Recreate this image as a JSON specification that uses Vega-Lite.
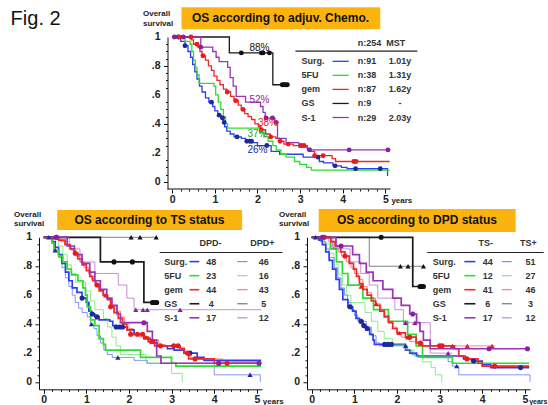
{
  "$schema": "https://vega.github.io/schema/vega-lite/v6.json",
  "padding": {"left": 10, "top": 7, "right": 0, "bottom": 5},
  "config": {"view": {"stroke": null}, "font": "Liberation Sans"},
  "bounds": "flush",
  "spacing": 48.3,
  "datasets": {
    "yticks": [{"v":0,"lab":"0"},{"v":0.2,"lab":".2"},{"v":0.4,"lab":".4"},{"v":0.6,"lab":".6"},{"v":0.8,"lab":".8"},{"v":1,"lab":"1"}],
    "top_curves": [
      {"c":"Surg.","t":0,"s":1},{"c":"Surg.","t":0.2,"s":0.97},{"c":"Surg.","t":0.3,"s":0.94},{"c":"Surg.","t":0.37,"s":0.9},{"c":"Surg.","t":0.43,"s":0.86},{"c":"Surg.","t":0.48,"s":0.81},{"c":"Surg.","t":0.53,"s":0.76},{"c":"Surg.","t":0.58,"s":0.71},{"c":"Surg.","t":0.64,"s":0.66},{"c":"Surg.","t":0.7,"s":0.62},{"c":"Surg.","t":0.78,"s":0.58},{"c":"Surg.","t":0.86,"s":0.55},{"c":"Surg.","t":0.95,"s":0.52},{"c":"Surg.","t":1.0,"s":0.49},{"c":"Surg.","t":1.07,"s":0.46},{"c":"Surg.","t":1.14,"s":0.44},{"c":"Surg.","t":1.2,"s":0.41},{"c":"Surg.","t":1.23,"s":0.38},{"c":"Surg.","t":1.28,"s":0.35},{"c":"Surg.","t":1.36,"s":0.33},{"c":"Surg.","t":1.45,"s":0.31},{"c":"Surg.","t":1.62,"s":0.3},{"c":"Surg.","t":1.72,"s":0.28},{"c":"Surg.","t":1.88,"s":0.27},{"c":"Surg.","t":2.0,"s":0.25},{"c":"Surg.","t":2.32,"s":0.21},{"c":"Surg.","t":2.52,"s":0.19},{"c":"Surg.","t":3.07,"s":0.17},{"c":"Surg.","t":3.45,"s":0.14},{"c":"Surg.","t":3.55,"s":0.13},{"c":"Surg.","t":3.77,"s":0.11},{"c":"Surg.","t":3.97,"s":0.1},{"c":"Surg.","t":4.1,"s":0.09},{"c":"Surg.","t":5.04,"s":0.09},{"c":"Surg.","t":5.05,"s":0.04},
      {"c":"5FU","t":0,"s":1},{"c":"5FU","t":0.3,"s":0.97},{"c":"5FU","t":0.42,"s":0.95},{"c":"5FU","t":0.46,"s":0.9},{"c":"5FU","t":0.5,"s":0.84},{"c":"5FU","t":0.54,"s":0.79},{"c":"5FU","t":0.58,"s":0.74},{"c":"5FU","t":0.63,"s":0.68},{"c":"5FU","t":0.98,"s":0.66},{"c":"5FU","t":1.02,"s":0.6},{"c":"5FU","t":1.08,"s":0.55},{"c":"5FU","t":1.14,"s":0.5},{"c":"5FU","t":1.2,"s":0.45},{"c":"5FU","t":1.25,"s":0.4},{"c":"5FU","t":1.3,"s":0.37},{"c":"5FU","t":2.05,"s":0.34},{"c":"5FU","t":2.15,"s":0.31},{"c":"5FU","t":2.25,"s":0.28},{"c":"5FU","t":2.36,"s":0.25},{"c":"5FU","t":2.44,"s":0.22},{"c":"5FU","t":2.55,"s":0.19},{"c":"5FU","t":2.67,"s":0.17},{"c":"5FU","t":2.87,"s":0.14},{"c":"5FU","t":2.99,"s":0.12},{"c":"5FU","t":3.15,"s":0.1},{"c":"5FU","t":3.26,"s":0.08},{"c":"5FU","t":5.1,"s":0.08},
      {"c":"gem","t":0,"s":1},{"c":"gem","t":0.45,"s":0.98},{"c":"gem","t":0.5,"s":0.95},{"c":"gem","t":0.6,"s":0.93},{"c":"gem","t":0.65,"s":0.9},{"c":"gem","t":0.7,"s":0.87},{"c":"gem","t":0.78,"s":0.84},{"c":"gem","t":0.85,"s":0.8},{"c":"gem","t":0.92,"s":0.77},{"c":"gem","t":0.98,"s":0.73},{"c":"gem","t":1.05,"s":0.7},{"c":"gem","t":1.12,"s":0.67},{"c":"gem","t":1.2,"s":0.64},{"c":"gem","t":1.28,"s":0.62},{"c":"gem","t":1.37,"s":0.59},{"c":"gem","t":1.45,"s":0.56},{"c":"gem","t":1.55,"s":0.53},{"c":"gem","t":1.62,"s":0.5},{"c":"gem","t":1.7,"s":0.47},{"c":"gem","t":1.78,"s":0.45},{"c":"gem","t":1.86,"s":0.43},{"c":"gem","t":1.94,"s":0.4},{"c":"gem","t":2.02,"s":0.38},{"c":"gem","t":2.08,"s":0.36},{"c":"gem","t":2.19,"s":0.33},{"c":"gem","t":2.3,"s":0.31},{"c":"gem","t":2.43,"s":0.3},{"c":"gem","t":2.52,"s":0.28},{"c":"gem","t":2.62,"s":0.26},{"c":"gem","t":2.84,"s":0.25},{"c":"gem","t":3.17,"s":0.23},{"c":"gem","t":3.25,"s":0.21},{"c":"gem","t":3.34,"s":0.18},{"c":"gem","t":3.75,"s":0.16},{"c":"gem","t":3.83,"s":0.14},{"c":"gem","t":5.1,"s":0.14},
      {"c":"GS","t":0,"s":1},{"c":"GS","t":1.34,"s":0.89},{"c":"GS","t":2.36,"s":0.67},{"c":"GS","t":2.7,"s":0.67},
      {"c":"S-1","t":0,"s":1},{"c":"S-1","t":0.67,"s":0.93},{"c":"S-1","t":0.95,"s":0.9},{"c":"S-1","t":1.03,"s":0.86},{"c":"S-1","t":1.1,"s":0.83},{"c":"S-1","t":1.3,"s":0.79},{"c":"S-1","t":1.36,"s":0.72},{"c":"S-1","t":1.43,"s":0.66},{"c":"S-1","t":1.5,"s":0.59},{"c":"S-1","t":1.72,"s":0.55},{"c":"S-1","t":2.07,"s":0.52},{"c":"S-1","t":2.13,"s":0.48},{"c":"S-1","t":2.18,"s":0.44},{"c":"S-1","t":2.4,"s":0.41},{"c":"S-1","t":2.47,"s":0.3},{"c":"S-1","t":2.67,"s":0.27},{"c":"S-1","t":2.97,"s":0.24},{"c":"S-1","t":3.17,"s":0.22},{"c":"S-1","t":5.1,"s":0.22}
    ],
    "top_cens": [
      {"c":"Surg.","t":0.14,"s":1},{"c":"Surg.","t":0.3,"s":0.94},{"c":"Surg.","t":0.92,"s":0.55},{"c":"Surg.","t":1.1,"s":0.46},{"c":"Surg.","t":1.18,"s":0.44},{"c":"Surg.","t":1.22,"s":0.41},{"c":"Surg.","t":1.52,"s":0.31},{"c":"Surg.","t":1.75,"s":0.28},{"c":"Surg.","t":1.82,"s":0.28},{"c":"Surg.","t":1.86,"s":0.28},{"c":"Surg.","t":2.22,"s":0.25},{"c":"Surg.","t":3.42,"s":0.17},{"c":"Surg.","t":3.82,"s":0.11},{"c":"Surg.","t":4.3,"s":0.09},{"c":"Surg.","t":4.88,"s":0.09},
      {"c":"gem","t":0.16,"s":1},{"c":"gem","t":0.44,"s":1},{"c":"gem","t":0.58,"s":0.95},{"c":"gem","t":0.72,"s":0.87},{"c":"gem","t":1.29,"s":0.62},{"c":"gem","t":1.49,"s":0.56},{"c":"gem","t":1.66,"s":0.5},{"c":"gem","t":2.09,"s":0.36},{"c":"gem","t":2.31,"s":0.31},{"c":"gem","t":2.53,"s":0.28},{"c":"gem","t":2.72,"s":0.26},{"c":"gem","t":3.02,"s":0.25},{"c":"gem","t":3.09,"s":0.25},{"c":"gem","t":3.34,"s":0.18},{"c":"gem","t":3.54,"s":0.18},{"c":"gem","t":4.26,"s":0.14},{"c":"gem","t":4.31,"s":0.14},
      {"c":"S-1","t":0.05,"s":1},{"c":"S-1","t":0.26,"s":1},{"c":"S-1","t":0.67,"s":0.93},{"c":"S-1","t":2.2,"s":0.44},{"c":"S-1","t":2.35,"s":0.44},{"c":"S-1","t":2.44,"s":0.41},{"c":"S-1","t":3.22,"s":0.22},{"c":"S-1","t":4.15,"s":0.22},{"c":"S-1","t":5.06,"s":0.22},
      {"c":"GS","t":1.62,"s":0.89},{"c":"GS","t":2.09,"s":0.89},{"c":"GS","t":2.13,"s":0.89},{"c":"GS","t":2.28,"s":0.89},{"c":"GS","t":2.58,"s":0.67},{"c":"GS","t":2.62,"s":0.67},{"c":"GS","t":2.66,"s":0.67},{"c":"GS","t":2.7,"s":0.67}
    ],
    "pct": [
      {"c":"GS","t":2,"s":0.88,"lab":"88%"},{"c":"S-1","t":2,"s":0.52,"lab":"52%"},{"c":"gem","t":2,"s":0.38,"lab":"38%"},{"c":"5FU","t":2,"s":0.37,"lab":"37%"},{"c":"Surg.","t":2,"s":0.26,"lab":"26%"}
    ],
    "top_tab": [
      {"c":"Surg.","n":"n:91","m":"1.01y"},{"c":"5FU","n":"n:38","m":"1.31y"},{"c":"gem","n":"n:87","m":"1.62y"},{"c":"GS","n":"n:9","m":"-"},{"c":"S-1","n":"n:29","m":"2.03y"}
    ],
    "tl_tab": [
      {"c":"Surg.","n1":"48","n2":"46"},{"c":"5FU","n1":"23","n2":"16"},{"c":"gem","n1":"44","n2":"43"},{"c":"GS","n1":"4","n2":"5"},{"c":"S-1","n1":"17","n2":"12"}
    ],
    "tr_tab": [
      {"c":"Surg.","n1":"44","n2":"51"},{"c":"5FU","n1":"12","n2":"27"},{"c":"gem","n1":"41","n2":"46"},{"c":"GS","n1":"6","n2":"3"},{"c":"S-1","n1":"17","n2":"12"}
    ],
    "tl_curves": [
      {"c":"Surg.","g":"a","t":0,"s":1},{"c":"Surg.","g":"a","t":0.2,"s":0.97},{"c":"Surg.","g":"a","t":0.27,"s":0.93},{"c":"Surg.","g":"a","t":0.35,"s":0.88},{"c":"Surg.","g":"a","t":0.43,"s":0.82},{"c":"Surg.","g":"a","t":0.51,"s":0.76},{"c":"Surg.","g":"a","t":0.59,"s":0.7},{"c":"Surg.","g":"a","t":0.67,"s":0.65},{"c":"Surg.","g":"a","t":0.78,"s":0.62},{"c":"Surg.","g":"a","t":0.9,"s":0.58},{"c":"Surg.","g":"a","t":1.0,"s":0.55},{"c":"Surg.","g":"a","t":1.06,"s":0.49},{"c":"Surg.","g":"a","t":1.12,"s":0.47},{"c":"Surg.","g":"a","t":1.2,"s":0.45},{"c":"Surg.","g":"a","t":1.3,"s":0.43},{"c":"Surg.","g":"a","t":1.55,"s":0.42},{"c":"Surg.","g":"a","t":1.62,"s":0.39},{"c":"Surg.","g":"a","t":1.7,"s":0.38},{"c":"Surg.","g":"a","t":1.96,"s":0.36},{"c":"Surg.","g":"a","t":2.12,"s":0.33},{"c":"Surg.","g":"a","t":2.35,"s":0.3},{"c":"Surg.","g":"a","t":2.5,"s":0.27},{"c":"Surg.","g":"a","t":2.66,"s":0.25},{"c":"Surg.","g":"a","t":2.9,"s":0.23},{"c":"Surg.","g":"a","t":3.06,"s":0.22},{"c":"Surg.","g":"a","t":3.29,"s":0.2},{"c":"Surg.","g":"a","t":3.6,"s":0.17},{"c":"Surg.","g":"a","t":3.76,"s":0.15},{"c":"Surg.","g":"a","t":5.1,"s":0.15},
      {"c":"Surg.","g":"b","t":0,"s":1},{"c":"Surg.","g":"b","t":0.2,"s":0.96},{"c":"Surg.","g":"b","t":0.27,"s":0.91},{"c":"Surg.","g":"b","t":0.35,"s":0.86},{"c":"Surg.","g":"b","t":0.43,"s":0.79},{"c":"Surg.","g":"b","t":0.51,"s":0.72},{"c":"Surg.","g":"b","t":0.59,"s":0.66},{"c":"Surg.","g":"b","t":0.67,"s":0.6},{"c":"Surg.","g":"b","t":0.74,"s":0.55},{"c":"Surg.","g":"b","t":0.82,"s":0.51},{"c":"Surg.","g":"b","t":0.9,"s":0.48},{"c":"Surg.","g":"b","t":1.02,"s":0.45},{"c":"Surg.","g":"b","t":1.1,"s":0.4},{"c":"Surg.","g":"b","t":1.18,"s":0.37},{"c":"Surg.","g":"b","t":1.25,"s":0.32},{"c":"Surg.","g":"b","t":1.33,"s":0.27},{"c":"Surg.","g":"b","t":1.41,"s":0.22},{"c":"Surg.","g":"b","t":1.49,"s":0.19},{"c":"Surg.","g":"b","t":1.61,"s":0.17},{"c":"Surg.","g":"b","t":2.12,"s":0.15},{"c":"Surg.","g":"b","t":2.43,"s":0.13},{"c":"Surg.","g":"b","t":4.0,"s":0.05},{"c":"Surg.","g":"b","t":5.05,"s":0.05},{"c":"Surg.","g":"b","t":5.08,"s":0},
      {"c":"5FU","g":"a","t":0,"s":1},{"c":"5FU","g":"a","t":0.2,"s":0.96},{"c":"5FU","g":"a","t":0.24,"s":0.91},{"c":"5FU","g":"a","t":0.35,"s":0.87},{"c":"5FU","g":"a","t":0.45,"s":0.83},{"c":"5FU","g":"a","t":0.55,"s":0.78},{"c":"5FU","g":"a","t":0.65,"s":0.74},{"c":"5FU","g":"a","t":0.8,"s":0.7},{"c":"5FU","g":"a","t":0.92,"s":0.65},{"c":"5FU","g":"a","t":0.98,"s":0.6},{"c":"5FU","g":"a","t":1.02,"s":0.52},{"c":"5FU","g":"a","t":1.1,"s":0.43},{"c":"5FU","g":"a","t":1.2,"s":0.39},{"c":"5FU","g":"a","t":1.3,"s":0.3},{"c":"5FU","g":"a","t":1.4,"s":0.26},{"c":"5FU","g":"a","t":1.45,"s":0.22},{"c":"5FU","g":"a","t":2.27,"s":0.17},{"c":"5FU","g":"a","t":3.0,"s":0.13},{"c":"5FU","g":"a","t":3.1,"s":0.11},{"c":"5FU","g":"a","t":5.1,"s":0.11},
      {"c":"5FU","g":"b","t":0,"s":1},{"c":"5FU","g":"b","t":0.35,"s":0.94},{"c":"5FU","g":"b","t":0.45,"s":0.88},{"c":"5FU","g":"b","t":0.55,"s":0.81},{"c":"5FU","g":"b","t":0.65,"s":0.75},{"c":"5FU","g":"b","t":0.75,"s":0.69},{"c":"5FU","g":"b","t":0.98,"s":0.63},{"c":"5FU","g":"b","t":1.1,"s":0.56},{"c":"5FU","g":"b","t":1.2,"s":0.5},{"c":"5FU","g":"b","t":1.4,"s":0.44},{"c":"5FU","g":"b","t":1.5,"s":0.38},{"c":"5FU","g":"b","t":1.6,"s":0.31},{"c":"5FU","g":"b","t":1.7,"s":0.25},{"c":"5FU","g":"b","t":1.8,"s":0.19},{"c":"5FU","g":"b","t":2.4,"s":0.13},{"c":"5FU","g":"b","t":3.0,"s":0.06},{"c":"5FU","g":"b","t":3.25,"s":0},
      {"c":"gem","g":"a","t":0,"s":1},{"c":"gem","g":"a","t":0.35,"s":0.98},{"c":"gem","g":"a","t":0.5,"s":0.95},{"c":"gem","g":"a","t":0.62,"s":0.92},{"c":"gem","g":"a","t":0.72,"s":0.89},{"c":"gem","g":"a","t":0.8,"s":0.85},{"c":"gem","g":"a","t":0.9,"s":0.81},{"c":"gem","g":"a","t":1.0,"s":0.77},{"c":"gem","g":"a","t":1.08,"s":0.73},{"c":"gem","g":"a","t":1.15,"s":0.7},{"c":"gem","g":"a","t":1.22,"s":0.67},{"c":"gem","g":"a","t":1.3,"s":0.63},{"c":"gem","g":"a","t":1.4,"s":0.6},{"c":"gem","g":"a","t":1.5,"s":0.57},{"c":"gem","g":"a","t":1.57,"s":0.52},{"c":"gem","g":"a","t":1.65,"s":0.48},{"c":"gem","g":"a","t":1.75,"s":0.44},{"c":"gem","g":"a","t":1.85,"s":0.4},{"c":"gem","g":"a","t":1.95,"s":0.36},{"c":"gem","g":"a","t":2.03,"s":0.33},{"c":"gem","g":"a","t":2.35,"s":0.31},{"c":"gem","g":"a","t":2.45,"s":0.28},{"c":"gem","g":"a","t":2.6,"s":0.25},{"c":"gem","g":"a","t":3.2,"s":0.23},{"c":"gem","g":"a","t":3.3,"s":0.2},{"c":"gem","g":"a","t":3.4,"s":0.16},{"c":"gem","g":"a","t":4.0,"s":0.13},{"c":"gem","g":"a","t":5.1,"s":0.13},
      {"c":"gem","g":"b","t":0,"s":1},{"c":"gem","g":"b","t":0.4,"s":0.97},{"c":"gem","g":"b","t":0.55,"s":0.94},{"c":"gem","g":"b","t":0.65,"s":0.91},{"c":"gem","g":"b","t":0.75,"s":0.87},{"c":"gem","g":"b","t":0.85,"s":0.83},{"c":"gem","g":"b","t":0.95,"s":0.79},{"c":"gem","g":"b","t":1.05,"s":0.75},{"c":"gem","g":"b","t":1.12,"s":0.71},{"c":"gem","g":"b","t":1.2,"s":0.68},{"c":"gem","g":"b","t":1.3,"s":0.64},{"c":"gem","g":"b","t":1.38,"s":0.6},{"c":"gem","g":"b","t":1.48,"s":0.57},{"c":"gem","g":"b","t":1.6,"s":0.53},{"c":"gem","g":"b","t":1.7,"s":0.49},{"c":"gem","g":"b","t":1.8,"s":0.45},{"c":"gem","g":"b","t":1.9,"s":0.41},{"c":"gem","g":"b","t":2.0,"s":0.37},{"c":"gem","g":"b","t":2.1,"s":0.33},{"c":"gem","g":"b","t":2.25,"s":0.31},{"c":"gem","g":"b","t":2.5,"s":0.29},{"c":"gem","g":"b","t":2.7,"s":0.26},{"c":"gem","g":"b","t":2.85,"s":0.25},{"c":"gem","g":"b","t":3.15,"s":0.24},{"c":"gem","g":"b","t":3.3,"s":0.2},{"c":"gem","g":"b","t":3.45,"s":0.17},{"c":"gem","g":"b","t":3.6,"s":0.16},{"c":"gem","g":"b","t":4.2,"s":0.14},{"c":"gem","g":"b","t":5.1,"s":0.14},
      {"c":"GS","g":"a","t":0,"s":1},{"c":"GS","g":"a","t":1.33,"s":0.83},{"c":"GS","g":"a","t":2.35,"s":0.55},{"c":"GS","g":"a","t":2.68,"s":0.55},
      {"c":"GS","g":"b","t":0,"s":1},{"c":"GS","g":"b","t":2.66,"s":1},
      {"c":"S-1","g":"a","t":0,"s":1},{"c":"S-1","g":"a","t":0.55,"s":0.94},{"c":"S-1","g":"a","t":0.72,"s":0.88},{"c":"S-1","g":"a","t":0.9,"s":0.82},{"c":"S-1","g":"a","t":1.08,"s":0.76},{"c":"S-1","g":"a","t":1.2,"s":0.7},{"c":"S-1","g":"a","t":1.33,"s":0.64},{"c":"S-1","g":"a","t":1.48,"s":0.58},{"c":"S-1","g":"a","t":1.6,"s":0.53},{"c":"S-1","g":"a","t":1.72,"s":0.47},{"c":"S-1","g":"a","t":1.8,"s":0.41},{"c":"S-1","g":"a","t":2.43,"s":0.35},{"c":"S-1","g":"a","t":2.55,"s":0.29},{"c":"S-1","g":"a","t":2.65,"s":0.18},{"c":"S-1","g":"a","t":2.75,"s":0.13},{"c":"S-1","g":"a","t":5.1,"s":0.13},
      {"c":"S-1","g":"b","t":0,"s":1},{"c":"S-1","g":"b","t":0.6,"s":0.92},{"c":"S-1","g":"b","t":0.85,"s":0.83},{"c":"S-1","g":"b","t":1.2,"s":0.75},{"c":"S-1","g":"b","t":1.75,"s":0.67},{"c":"S-1","g":"b","t":1.95,"s":0.58},{"c":"S-1","g":"b","t":2.12,"s":0.5},{"c":"S-1","g":"b","t":5.1,"s":0.5}
    ],
    "tl_cens": [
      {"c":"Surg.","g":"a","t":0.9,"s":0.58},{"c":"Surg.","g":"a","t":1.14,"s":0.47},{"c":"Surg.","g":"a","t":1.25,"s":0.45},{"c":"Surg.","g":"a","t":1.7,"s":0.38},{"c":"Surg.","g":"a","t":1.78,"s":0.38},{"c":"Surg.","g":"a","t":1.85,"s":0.38},{"c":"Surg.","g":"a","t":3.43,"s":0.2},
      {"c":"Surg.","g":"b","t":0.12,"s":1},{"c":"Surg.","g":"b","t":0.27,"s":0.91},{"c":"Surg.","g":"b","t":1.12,"s":0.4},{"c":"Surg.","g":"b","t":1.74,"s":0.17},{"c":"Surg.","g":"b","t":4.84,"s":0.05},
      {"c":"gem","g":"a","t":0.3,"s":1},{"c":"gem","g":"a","t":0.74,"s":0.89},{"c":"gem","g":"a","t":1.25,"s":0.67},{"c":"gem","g":"a","t":1.57,"s":0.52},{"c":"gem","g":"a","t":2.04,"s":0.33},{"c":"gem","g":"a","t":2.2,"s":0.33},{"c":"gem","g":"a","t":2.32,"s":0.33},{"c":"gem","g":"a","t":2.55,"s":0.28},{"c":"gem","g":"a","t":2.74,"s":0.25},{"c":"gem","g":"a","t":3.05,"s":0.25},{"c":"gem","g":"a","t":3.15,"s":0.25},{"c":"gem","g":"a","t":3.37,"s":0.2},{"c":"gem","g":"a","t":3.55,"s":0.16},{"c":"gem","g":"a","t":4.1,"s":0.13},{"c":"gem","g":"a","t":4.3,"s":0.13},
      {"c":"gem","g":"b","t":1.45,"s":0.6},{"c":"gem","g":"b","t":2.4,"s":0.31},{"c":"gem","g":"b","t":3.4,"s":0.2},
      {"c":"GS","g":"a","t":1.65,"s":0.83},{"c":"GS","g":"a","t":2.08,"s":0.83},{"c":"GS","g":"a","t":2.55,"s":0.55},{"c":"GS","g":"a","t":2.6,"s":0.55},{"c":"GS","g":"a","t":2.65,"s":0.55},
      {"c":"GS","g":"b","t":2.05,"s":1},{"c":"GS","g":"b","t":2.26,"s":1},{"c":"GS","g":"b","t":2.64,"s":1},
      {"c":"S-1","g":"a","t":0.3,"s":1},{"c":"S-1","g":"a","t":2.35,"s":0.41},{"c":"S-1","g":"a","t":4.11,"s":0.13},{"c":"S-1","g":"a","t":5.05,"s":0.13},
      {"c":"S-1","g":"b","t":0.25,"s":1},{"c":"S-1","g":"b","t":2.16,"s":0.5},{"c":"S-1","g":"b","t":2.33,"s":0.5},{"c":"S-1","g":"b","t":2.43,"s":0.5},{"c":"S-1","g":"b","t":3.2,"s":0.5}
    ],
    "tr_curves": [
      {"c":"Surg.","g":"a","t":0,"s":1},{"c":"Surg.","g":"a","t":0.17,"s":0.98},{"c":"Surg.","g":"a","t":0.25,"s":0.95},{"c":"Surg.","g":"a","t":0.33,"s":0.9},{"c":"Surg.","g":"a","t":0.41,"s":0.84},{"c":"Surg.","g":"a","t":0.49,"s":0.78},{"c":"Surg.","g":"a","t":0.57,"s":0.71},{"c":"Surg.","g":"a","t":0.65,"s":0.64},{"c":"Surg.","g":"a","t":0.73,"s":0.57},{"c":"Surg.","g":"a","t":0.85,"s":0.52},{"c":"Surg.","g":"a","t":0.96,"s":0.49},{"c":"Surg.","g":"a","t":1.04,"s":0.44},{"c":"Surg.","g":"a","t":1.12,"s":0.42},{"c":"Surg.","g":"a","t":1.2,"s":0.39},{"c":"Surg.","g":"a","t":1.28,"s":0.37},{"c":"Surg.","g":"a","t":1.36,"s":0.33},{"c":"Surg.","g":"a","t":1.44,"s":0.29},{"c":"Surg.","g":"a","t":1.47,"s":0.26},{"c":"Surg.","g":"a","t":2.2,"s":0.22},{"c":"Surg.","g":"a","t":2.3,"s":0.2},{"c":"Surg.","g":"a","t":2.46,"s":0.18},{"c":"Surg.","g":"a","t":3.56,"s":0.16},{"c":"Surg.","g":"a","t":3.75,"s":0.145},{"c":"Surg.","g":"a","t":4.0,"s":0.12},{"c":"Surg.","g":"a","t":4.2,"s":0.1},{"c":"Surg.","g":"a","t":5.1,"s":0.1},
      {"c":"Surg.","g":"b","t":0,"s":1},{"c":"Surg.","g":"b","t":0.2,"s":0.97},{"c":"Surg.","g":"b","t":0.33,"s":0.92},{"c":"Surg.","g":"b","t":0.41,"s":0.86},{"c":"Surg.","g":"b","t":0.53,"s":0.79},{"c":"Surg.","g":"b","t":0.61,"s":0.72},{"c":"Surg.","g":"b","t":0.69,"s":0.65},{"c":"Surg.","g":"b","t":0.77,"s":0.6},{"c":"Surg.","g":"b","t":0.84,"s":0.55},{"c":"Surg.","g":"b","t":0.92,"s":0.5},{"c":"Surg.","g":"b","t":1.0,"s":0.46},{"c":"Surg.","g":"b","t":1.08,"s":0.42},{"c":"Surg.","g":"b","t":1.28,"s":0.38},{"c":"Surg.","g":"b","t":1.4,"s":0.32},{"c":"Surg.","g":"b","t":1.51,"s":0.27},{"c":"Surg.","g":"b","t":1.6,"s":0.25},{"c":"Surg.","g":"b","t":2.25,"s":0.22},{"c":"Surg.","g":"b","t":2.35,"s":0.19},{"c":"Surg.","g":"b","t":2.5,"s":0.17},{"c":"Surg.","g":"b","t":3.2,"s":0.14},{"c":"Surg.","g":"b","t":3.3,"s":0.11},{"c":"Surg.","g":"b","t":3.45,"s":0.05},{"c":"Surg.","g":"b","t":5.1,"s":0.05},{"c":"Surg.","g":"b","t":5.12,"s":0},
      {"c":"5FU","g":"a","t":0,"s":1},{"c":"5FU","g":"a","t":0.45,"s":0.92},{"c":"5FU","g":"a","t":0.58,"s":0.83},{"c":"5FU","g":"a","t":0.72,"s":0.75},{"c":"5FU","g":"a","t":0.85,"s":0.67},{"c":"5FU","g":"a","t":1.2,"s":0.58},{"c":"5FU","g":"a","t":1.45,"s":0.5},{"c":"5FU","g":"a","t":1.8,"s":0.42},{"c":"5FU","g":"a","t":2.25,"s":0.33},{"c":"5FU","g":"a","t":2.45,"s":0.25},{"c":"5FU","g":"a","t":2.6,"s":0.17},{"c":"5FU","g":"a","t":3.3,"s":0.13},{"c":"5FU","g":"a","t":5.1,"s":0.13},
      {"c":"5FU","g":"b","t":0,"s":1},{"c":"5FU","g":"b","t":0.3,"s":0.96},{"c":"5FU","g":"b","t":0.42,"s":0.89},{"c":"5FU","g":"b","t":0.52,"s":0.81},{"c":"5FU","g":"b","t":0.62,"s":0.74},{"c":"5FU","g":"b","t":0.72,"s":0.67},{"c":"5FU","g":"b","t":0.82,"s":0.6},{"c":"5FU","g":"b","t":0.92,"s":0.55},{"c":"5FU","g":"b","t":1.25,"s":0.48},{"c":"5FU","g":"b","t":1.4,"s":0.42},{"c":"5FU","g":"b","t":1.55,"s":0.35},{"c":"5FU","g":"b","t":1.7,"s":0.3},{"c":"5FU","g":"b","t":1.9,"s":0.26},{"c":"5FU","g":"b","t":2.2,"s":0.22},{"c":"5FU","g":"b","t":2.4,"s":0.18},{"c":"5FU","g":"b","t":2.6,"s":0.14},{"c":"5FU","g":"b","t":2.8,"s":0.1},{"c":"5FU","g":"b","t":2.9,"s":0.05},{"c":"5FU","g":"b","t":3.05,"s":0},
      {"c":"gem","g":"a","t":0,"s":1},{"c":"gem","g":"a","t":0.45,"s":0.97},{"c":"gem","g":"a","t":0.55,"s":0.94},{"c":"gem","g":"a","t":0.68,"s":0.9},{"c":"gem","g":"a","t":0.78,"s":0.87},{"c":"gem","g":"a","t":0.88,"s":0.82},{"c":"gem","g":"a","t":0.98,"s":0.78},{"c":"gem","g":"a","t":1.05,"s":0.73},{"c":"gem","g":"a","t":1.12,"s":0.68},{"c":"gem","g":"a","t":1.2,"s":0.64},{"c":"gem","g":"a","t":1.3,"s":0.6},{"c":"gem","g":"a","t":1.4,"s":0.56},{"c":"gem","g":"a","t":1.5,"s":0.53},{"c":"gem","g":"a","t":1.6,"s":0.49},{"c":"gem","g":"a","t":1.7,"s":0.45},{"c":"gem","g":"a","t":1.8,"s":0.41},{"c":"gem","g":"a","t":1.9,"s":0.37},{"c":"gem","g":"a","t":2.0,"s":0.34},{"c":"gem","g":"a","t":2.2,"s":0.31},{"c":"gem","g":"a","t":2.45,"s":0.27},{"c":"gem","g":"a","t":2.6,"s":0.25},{"c":"gem","g":"a","t":3.35,"s":0.23},{"c":"gem","g":"a","t":3.45,"s":0.18},{"c":"gem","g":"a","t":3.6,"s":0.16},{"c":"gem","g":"a","t":3.9,"s":0.13},{"c":"gem","g":"a","t":4.0,"s":0.11},{"c":"gem","g":"a","t":5.1,"s":0.11},
      {"c":"gem","g":"b","t":0,"s":1},{"c":"gem","g":"b","t":0.4,"s":0.97},{"c":"gem","g":"b","t":0.5,"s":0.93},{"c":"gem","g":"b","t":0.62,"s":0.9},{"c":"gem","g":"b","t":0.7,"s":0.87},{"c":"gem","g":"b","t":0.82,"s":0.83},{"c":"gem","g":"b","t":0.92,"s":0.79},{"c":"gem","g":"b","t":1.0,"s":0.75},{"c":"gem","g":"b","t":1.1,"s":0.71},{"c":"gem","g":"b","t":1.2,"s":0.66},{"c":"gem","g":"b","t":1.3,"s":0.62},{"c":"gem","g":"b","t":1.4,"s":0.58},{"c":"gem","g":"b","t":1.5,"s":0.54},{"c":"gem","g":"b","t":1.62,"s":0.5},{"c":"gem","g":"b","t":1.72,"s":0.46},{"c":"gem","g":"b","t":1.82,"s":0.42},{"c":"gem","g":"b","t":1.9,"s":0.38},{"c":"gem","g":"b","t":2.0,"s":0.34},{"c":"gem","g":"b","t":2.1,"s":0.31},{"c":"gem","g":"b","t":2.3,"s":0.28},{"c":"gem","g":"b","t":2.5,"s":0.25},{"c":"gem","g":"b","t":4.3,"s":0.25},
      {"c":"GS","g":"a","t":0,"s":1},{"c":"GS","g":"a","t":2.37,"s":0.66},{"c":"GS","g":"a","t":2.65,"s":0.66},
      {"c":"GS","g":"b","t":0,"s":1},{"c":"GS","g":"b","t":1.35,"s":0.8},{"c":"GS","g":"b","t":2.65,"s":0.8},
      {"c":"S-1","g":"a","t":0,"s":1},{"c":"S-1","g":"a","t":0.57,"s":0.94},{"c":"S-1","g":"a","t":0.96,"s":0.88},{"c":"S-1","g":"a","t":1.12,"s":0.82},{"c":"S-1","g":"a","t":1.28,"s":0.76},{"c":"S-1","g":"a","t":1.44,"s":0.7},{"c":"S-1","g":"a","t":1.67,"s":0.64},{"c":"S-1","g":"a","t":1.9,"s":0.58},{"c":"S-1","g":"a","t":2.1,"s":0.53},{"c":"S-1","g":"a","t":2.3,"s":0.47},{"c":"S-1","g":"a","t":2.46,"s":0.41},{"c":"S-1","g":"a","t":2.54,"s":0.35},{"c":"S-1","g":"a","t":2.62,"s":0.29},{"c":"S-1","g":"a","t":2.78,"s":0.23},{"c":"S-1","g":"a","t":5.1,"s":0.23},
      {"c":"S-1","g":"b","t":0,"s":1},{"c":"S-1","g":"b","t":0.5,"s":0.92},{"c":"S-1","g":"b","t":0.9,"s":0.83},{"c":"S-1","g":"b","t":1.15,"s":0.75},{"c":"S-1","g":"b","t":1.35,"s":0.67},{"c":"S-1","g":"b","t":1.55,"s":0.58},{"c":"S-1","g":"b","t":1.95,"s":0.5},{"c":"S-1","g":"b","t":2.15,"s":0.41},{"c":"S-1","g":"b","t":2.78,"s":0.2},{"c":"S-1","g":"b","t":3.3,"s":0.2}
    ],
    "tr_cens": [
      {"c":"Surg.","g":"a","t":0.9,"s":0.52},{"c":"Surg.","g":"a","t":1.16,"s":0.42},{"c":"Surg.","g":"a","t":1.22,"s":0.39},{"c":"Surg.","g":"a","t":1.3,"s":0.37},{"c":"Surg.","g":"a","t":1.71,"s":0.26},{"c":"Surg.","g":"a","t":1.79,"s":0.26},{"c":"Surg.","g":"a","t":1.87,"s":0.26},{"c":"Surg.","g":"a","t":3.8,"s":0.145},{"c":"Surg.","g":"a","t":4.9,"s":0.1},
      {"c":"Surg.","g":"b","t":0.09,"s":1},{"c":"Surg.","g":"b","t":1.16,"s":0.42},{"c":"Surg.","g":"b","t":2.2,"s":0.25},{"c":"Surg.","g":"b","t":3.4,"s":0.11},
      {"c":"gem","g":"a","t":0.3,"s":1},{"c":"gem","g":"a","t":0.78,"s":0.87},{"c":"gem","g":"a","t":2.3,"s":0.31},{"c":"gem","g":"a","t":2.55,"s":0.27},{"c":"gem","g":"a","t":3.0,"s":0.25},{"c":"gem","g":"a","t":3.06,"s":0.25},{"c":"gem","g":"a","t":3.64,"s":0.16},{"c":"gem","g":"a","t":4.29,"s":0.11},
      {"c":"gem","g":"b","t":1.16,"s":0.66},{"c":"gem","g":"b","t":1.51,"s":0.54},{"c":"gem","g":"b","t":2.05,"s":0.34},{"c":"gem","g":"b","t":2.25,"s":0.31},{"c":"gem","g":"b","t":3.3,"s":0.25},{"c":"gem","g":"b","t":3.65,"s":0.25},{"c":"gem","g":"b","t":4.23,"s":0.25},
      {"c":"GS","g":"a","t":1.63,"s":1},{"c":"GS","g":"a","t":2.54,"s":0.66},{"c":"GS","g":"a","t":2.58,"s":0.66},{"c":"GS","g":"a","t":2.62,"s":0.66},
      {"c":"GS","g":"b","t":2.08,"s":0.8},{"c":"GS","g":"b","t":2.26,"s":0.8},{"c":"GS","g":"b","t":2.62,"s":0.8},
      {"c":"S-1","g":"a","t":0.25,"s":1},{"c":"S-1","g":"a","t":0.69,"s":0.94},{"c":"S-1","g":"a","t":2.37,"s":0.47},{"c":"S-1","g":"a","t":4.16,"s":0.23},{"c":"S-1","g":"a","t":5.06,"s":0.23},
      {"c":"S-1","g":"b","t":2.2,"s":0.41},{"c":"S-1","g":"b","t":2.42,"s":0.41},{"c":"S-1","g":"b","t":3.2,"s":0.2}
    ]
  },
  "vconcat": [
    {
      "width": 491, "height": 152,
      "resolve": {"scale": {"y": "independent"}, "axis": {"x": "independent"}},
      "layer": [
        {"layer": [
          {"data": {"values": [{}]}, "mark": {"type": "rect", "fill": "#fbb40f"}, "encoding": {"x": {"datum": 0.218, "type": "quantitative"}, "x2": {"datum": 4.88}, "y": {"datum": 1.205, "type": "quantitative"}, "y2": {"datum": 1.053}}},
          {"data": {"values": [{}]}, "mark": {"type": "text", "fontSize": 12, "fontWeight": "bold", "color": "#111", "baseline": "middle", "align": "center"}, "encoding": {"x": {"datum": 2.54, "type": "quantitative"}, "y": {"datum": 1.129, "type": "quantitative"}, "text": {"value": "OS according to adjuv. Chemo."}}},
          {"data": {"values": [{}]}, "mark": {"type": "text", "fontSize": 20, "color": "#111", "baseline": "alphabetic", "align": "left"}, "encoding": {"x": {"datum": -3.79, "type": "quantitative"}, "y": {"datum": 1.083, "type": "quantitative"}, "text": {"value": "Fig. 2"}}},
          {"data": {"values": [{}]}, "mark": {"type": "rule", "color": "#111", "strokeWidth": 1}, "encoding": {"x": {"datum": -0.11, "type": "quantitative"}, "x2": {"datum": 5.12}, "y": {"datum": -0.05, "type": "quantitative"}}},
          {"data": {"name": "yticks"}, "mark": {"type": "text", "fontSize": 10.5, "fontWeight": "bold", "color": "#222", "align": "right", "baseline": "middle", "dx": -7}, "encoding": {"x": {"datum": -0.11, "type": "quantitative"}, "y": {"field": "v", "type": "quantitative"}, "text": {"field": "lab"}}},
          {"data": {"name": "top_curves"}, "mark": {"type": "line", "interpolate": "step-after", "strokeWidth": 1.3},
           "encoding": {
             "x": {"field": "t", "type": "quantitative", "scale": {"domain": [-3.124, 8.391], "nice": false, "zero": false},
                   "axis": {"orient": "bottom", "values": [0,1,2,3,4,5], "format": "d", "tickSize": 4, "domain": false, "labelOverlap": false, "labelFlush": false, "title": null, "grid": false, "labelFontSize": 10.5, "labelFontWeight": "bold", "labelColor": "#222", "tickColor": "#111", "labelPadding": 1}},
             "y": {"field": "s", "type": "quantitative", "scale": {"domain": [-0.05, 1], "nice": false, "zero": false},
                   "axis": {"offset": -128.5, "values": [0,0.2,0.4,0.6,0.8,1], "labels": false, "tickSize": 4, "grid": false, "domainColor": "#111", "tickColor": "#111", "title": ["Overall", "survival"], "titleAngle": 0, "titleAlign": "left", "titleBaseline": "top", "titleX": -25, "titleY": -27.5, "titleFontSize": 8, "titleFontWeight": "bold", "titleLineHeight": 9.5, "titleColor": "#222"}},
             "color": {"field": "c", "type": "nominal", "scale": {"domain": ["Surg.","5FU","gem","GS","S-1"], "range": ["#2b40f0","#2fdc2f","#f02828","#1a1a1a","#9a35b5"]}, "legend": null}
           }},
          {"data": {"name": "top_cens"}, "mark": {"type": "point", "filled": true, "size": 24, "opacity": 1, "strokeWidth": 0, "shape": "circle"},
           "encoding": {"x": {"field": "t", "type": "quantitative"}, "y": {"field": "s", "type": "quantitative"},
             "fill": {"field": "c", "type": "nominal", "scale": {"domain": ["Surg.","5FU","gem","GS","S-1"], "range": ["#1c2a95","#2aa02a","#e81c1c","#111111","#8a1fa5"]}, "legend": null}}},
          {"data": {"name": "pct"}, "transform": [{"filter": {"field": "c", "oneOf": ["GS", "S-1"]}}], "mark": {"type": "text", "fontSize": 10, "dx": 2, "dy": -6.5, "baseline": "middle"},
           "encoding": {"x": {"field": "t", "type": "quantitative"}, "y": {"field": "s", "type": "quantitative"}, "text": {"field": "lab"}, "fill": {"field": "c", "type": "nominal", "legend": null}}},
          {"data": {"name": "pct"}, "transform": [{"filter": {"field": "c", "oneOf": ["gem"]}}], "mark": {"type": "text", "fontSize": 10, "dx": 10.5, "dy": -3.3, "baseline": "middle"},
           "encoding": {"x": {"field": "t", "type": "quantitative"}, "y": {"field": "s", "type": "quantitative"}, "text": {"field": "lab"}, "fill": {"field": "c", "type": "nominal", "legend": null}}},
          {"data": {"name": "pct"}, "transform": [{"filter": {"field": "c", "oneOf": ["5FU", "Surg."]}}], "mark": {"type": "text", "fontSize": 10, "dx": 0, "dy": 5.7, "baseline": "middle"},
           "encoding": {"x": {"field": "t", "type": "quantitative"}, "y": {"field": "s", "type": "quantitative"}, "text": {"field": "lab"}, "fill": {"field": "c", "type": "nominal", "legend": null}}},
          {"data": {"values": [{}]}, "mark": {"type": "text", "fontSize": 9, "fontWeight": "bold", "color": "#333", "baseline": "middle", "align": "left"}, "encoding": {"x": {"datum": 4.35, "type": "quantitative"}, "y": {"datum": 0.9586, "type": "quantitative"}, "text": {"value": "n:254"}}},
          {"data": {"values": [{}]}, "mark": {"type": "text", "fontSize": 9, "fontWeight": "bold", "color": "#333", "baseline": "middle", "align": "center"}, "encoding": {"x": {"datum": 5.24, "type": "quantitative"}, "y": {"datum": 0.9586, "type": "quantitative"}, "text": {"value": "MST"}}},
          {"data": {"values": [{}]}, "mark": {"type": "rule", "color": "#222", "strokeWidth": 1.2}, "encoding": {"x": {"datum": 2.89, "type": "quantitative"}, "x2": {"datum": 5.75}, "y": {"datum": 0.903, "type": "quantitative"}}},
          {"data": {"values": [{}]}, "mark": {"type": "text", "fontSize": 8, "fontWeight": "bold", "color": "#222", "baseline": "alphabetic", "align": "left"}, "encoding": {"x": {"datum": 5.14, "type": "quantitative"}, "y": {"datum": -0.15, "type": "quantitative"}, "text": {"value": "years"}}}
        ]},
        {"data": {"name": "top_tab"}, "layer": [
          {"mark": {"type": "text", "fontSize": 9, "fontWeight": "bold", "color": "#333", "baseline": "middle", "align": "left"},
           "encoding": {"x": {"datum": 3.03, "type": "quantitative", "axis": null}, "y": {"field": "c", "type": "nominal", "scale": {"type": "point", "domain": ["Surg.","5FU","gem","GS","S-1"], "range": [24.3, 80.5], "padding": 0}, "axis": null}, "text": {"field": "c"}}},
          {"mark": {"type": "rule", "strokeWidth": 1.3},
           "encoding": {"x": {"datum": 3.76, "type": "quantitative", "axis": null}, "x2": {"datum": 4.14}, "y": {"field": "c", "type": "nominal"}, "color": {"field": "c", "type": "nominal", "legend": null}}},
          {"mark": {"type": "text", "fontSize": 9, "fontWeight": "bold", "color": "#333", "baseline": "middle", "align": "left"},
           "encoding": {"x": {"datum": 4.35, "type": "quantitative", "axis": null}, "y": {"field": "c", "type": "nominal"}, "text": {"field": "n"}}},
          {"mark": {"type": "text", "fontSize": 9, "fontWeight": "bold", "color": "#333", "baseline": "middle", "align": "center"},
           "encoding": {"x": {"datum": 5.34, "type": "quantitative", "axis": null}, "y": {"field": "c", "type": "nominal"}, "text": {"field": "m"}}}
        ]},
        {"data": {"values": [{}]}, "mark": {"type": "point", "opacity": 0, "size": 0},
         "encoding": {
           "x": {"datum": 0, "type": "quantitative", "axis": {"orient": "bottom", "values": [0.2,0.4,0.6,0.8,1.2,1.4,1.6,1.8,2.2,2.4,2.6,2.8,3.2,3.4,3.6,3.8,4.2,4.4,4.6,4.8], "labels": false, "domain": false, "tickSize": 2, "tickColor": "#111", "grid": false, "title": null}},
           "y": {"datum": 0, "type": "quantitative", "scale": {"domain": [-0.05, 1], "nice": false, "zero": false}, "axis": {"orient": "left", "offset": -128.5, "values": [0.05,0.1,0.15,0.25,0.3,0.35,0.45,0.5,0.55,0.65,0.7,0.75,0.85,0.9,0.95], "labels": false, "domain": false, "tickSize": 2, "tickColor": "#111", "grid": false, "title": null}}
         }}
      ]
    },
    {
      "bounds": "flush",
      "spacing": 45,
      "hconcat": [
        {
          "width": 223, "height": 152,
          "resolve": {"scale": {"y": "independent"}, "axis": {"x": "independent"}},
          "layer": [
            {"layer": [
              {"data": {"values": [{}]}, "mark": {"type": "rect", "fill": "#fbb40f"}, "encoding": {"x": {"datum": 0.317, "type": "quantitative"}, "x2": {"datum": 4.654}, "y": {"datum": 1.189, "type": "quantitative"}, "y2": {"datum": 1.05}}},
              {"data": {"values": [{}]}, "mark": {"type": "text", "fontSize": 12, "fontWeight": "bold", "color": "#111", "baseline": "middle", "align": "center"}, "encoding": {"x": {"datum": 2.48, "type": "quantitative"}, "y": {"datum": 1.12, "type": "quantitative"}, "text": {"value": "OS according to TS status"}}},
              {"data": {"name": "yticks"}, "mark": {"type": "text", "fontSize": 10.5, "fontWeight": "bold", "color": "#222", "align": "right", "baseline": "middle", "dx": -7}, "encoding": {"x": {"datum": -0.11, "type": "quantitative"}, "y": {"field": "v", "type": "quantitative"}, "text": {"field": "lab"}}},
              {"data": {"name": "tl_curves"}, "mark": {"type": "line", "interpolate": "step-after"},
               "encoding": {
                 "x": {"field": "t", "type": "quantitative", "scale": {"domain": [-0.11, 5.12], "nice": false, "zero": false},
                       "axis": {"orient": "bottom", "values": [0,1,2,3,4,5], "format": "d", "tickSize": 4, "labelOverlap": false, "labelFlush": false, "title": null, "grid": false, "labelFontSize": 10.5, "labelFontWeight": "bold", "labelColor": "#222", "domainColor": "#111", "tickColor": "#111", "labelPadding": 1}},
                 "y": {"field": "s", "type": "quantitative", "scale": {"domain": [-0.05, 1], "nice": false, "zero": false},
                       "axis": {"values": [0,0.2,0.4,0.6,0.8,1], "labels": false, "tickSize": 4, "grid": false, "domainColor": "#111", "tickColor": "#111", "title": ["Overall", "survival"], "titleAngle": 0, "titleAlign": "left", "titleBaseline": "top", "titleX": -25.5, "titleY": -27, "titleFontSize": 8, "titleFontWeight": "bold", "titleLineHeight": 9.5, "titleColor": "#222"}},
                 "color": {"field": "c", "type": "nominal", "scale": {"domain": ["Surg.","5FU","gem","GS","S-1"], "range": ["#2b40f0","#2fdc2f","#f02828","#1a1a1a","#9a35b5"]}, "legend": null},
                 "strokeWidth": {"field": "g", "type": "nominal", "scale": {"domain": ["a","b"], "range": [1.7, 1.0]}, "legend": null},
                 "opacity": {"field": "g", "type": "nominal", "scale": {"domain": ["a","b"], "range": [1, 0.55]}, "legend": null},
                 "detail": {"field": "g"}
               }},
              {"data": {"name": "tl_cens"}, "mark": {"type": "point", "filled": true, "size": 26, "opacity": 1, "strokeWidth": 0},
               "encoding": {"x": {"field": "t", "type": "quantitative"}, "y": {"field": "s", "type": "quantitative"},
                 "fill": {"field": "c", "type": "nominal", "scale": {"domain": ["Surg.","5FU","gem","GS","S-1"], "range": ["#1c2a95","#2aa02a","#e81c1c","#111111","#8a1fa5"]}, "legend": null},
                 "shape": {"field": "g", "type": "nominal", "scale": {"domain": ["a","b"], "range": ["circle","triangle-up"]}, "legend": null}}},
              {"data": {"values": [{}]}, "mark": {"type": "text", "fontSize": 9, "fontWeight": "bold", "color": "#333", "baseline": "middle", "align": "center"}, "encoding": {"x": {"datum": 3.91, "type": "quantitative"}, "y": {"datum": 0.9586, "type": "quantitative"}, "text": {"value": "DPD-"}}},
              {"data": {"values": [{}]}, "mark": {"type": "text", "fontSize": 9, "fontWeight": "bold", "color": "#333", "baseline": "middle", "align": "center"}, "encoding": {"x": {"datum": 5.13, "type": "quantitative"}, "y": {"datum": 0.9586, "type": "quantitative"}, "text": {"value": "DPD+"}}},
              {"data": {"values": [{}]}, "mark": {"type": "rule", "color": "#222", "strokeWidth": 1.2}, "encoding": {"x": {"datum": 2.72, "type": "quantitative"}, "x2": {"datum": 5.6}, "y": {"datum": 0.895, "type": "quantitative"}}},
              {"data": {"values": [{}]}, "mark": {"type": "text", "fontSize": 8, "fontWeight": "bold", "color": "#222", "baseline": "alphabetic", "align": "left"}, "encoding": {"x": {"datum": 5.14, "type": "quantitative"}, "y": {"datum": -0.152, "type": "quantitative"}, "text": {"value": "years"}}}
            ]},
            {"data": {"name": "tl_tab"}, "layer": [
              {"mark": {"type": "text", "fontSize": 9, "fontWeight": "bold", "color": "#333", "baseline": "middle", "align": "left"},
               "encoding": {"x": {"datum": 2.83, "type": "quantitative", "axis": null}, "y": {"field": "c", "type": "nominal", "scale": {"type": "point", "domain": ["Surg.","5FU","gem","GS","S-1"], "range": [24.3, 80.5], "padding": 0}, "axis": null}, "text": {"field": "c"}}},
              {"mark": {"type": "rule", "strokeWidth": 1.6},
               "encoding": {"x": {"datum": 3.42, "type": "quantitative", "axis": null}, "x2": {"datum": 3.65}, "y": {"field": "c", "type": "nominal"}, "color": {"field": "c", "type": "nominal", "legend": null}}},
              {"mark": {"type": "text", "fontSize": 9, "fontWeight": "bold", "color": "#333", "baseline": "middle", "align": "center"},
               "encoding": {"x": {"datum": 3.93, "type": "quantitative", "axis": null}, "y": {"field": "c", "type": "nominal"}, "text": {"field": "n1"}}},
              {"mark": {"type": "rule", "strokeWidth": 1.2, "opacity": 0.6},
               "encoding": {"x": {"datum": 4.54, "type": "quantitative", "axis": null}, "x2": {"datum": 4.78}, "y": {"field": "c", "type": "nominal"}, "color": {"field": "c", "type": "nominal", "legend": null}}},
              {"mark": {"type": "text", "fontSize": 9, "fontWeight": "bold", "color": "#333", "baseline": "middle", "align": "center"},
               "encoding": {"x": {"datum": 5.16, "type": "quantitative", "axis": null}, "y": {"field": "c", "type": "nominal"}, "text": {"field": "n2"}}}
            ]},
            {"data": {"values": [{}]}, "mark": {"type": "point", "opacity": 0, "size": 0},
             "encoding": {
               "x": {"datum": 0, "type": "quantitative", "axis": {"orient": "bottom", "values": [0.2,0.4,0.6,0.8,1.2,1.4,1.6,1.8,2.2,2.4,2.6,2.8,3.2,3.4,3.6,3.8,4.2,4.4,4.6,4.8], "labels": false, "domain": false, "tickSize": 2, "tickColor": "#111", "grid": false, "title": null}},
               "y": {"datum": 0, "type": "quantitative", "scale": {"domain": [-0.05, 1], "nice": false, "zero": false}, "axis": {"orient": "left", "values": [0.05,0.1,0.15,0.25,0.3,0.35,0.45,0.5,0.55,0.65,0.7,0.75,0.85,0.9,0.95], "labels": false, "domain": false, "tickSize": 2, "tickColor": "#111", "grid": false, "title": null}}
             }}
          ]
        },
        {
          "width": 223, "height": 152,
          "resolve": {"scale": {"y": "independent"}, "axis": {"x": "independent"}},
          "layer": [
            {"layer": [
              {"data": {"values": [{}]}, "mark": {"type": "rect", "fill": "#fbb40f"}, "encoding": {"x": {"datum": 0.164, "type": "quantitative"}, "x2": {"datum": 4.784}, "y": {"datum": 1.196, "type": "quantitative"}, "y2": {"datum": 1.037}}},
              {"data": {"values": [{}]}, "mark": {"type": "text", "fontSize": 12, "fontWeight": "bold", "color": "#111", "baseline": "middle", "align": "center"}, "encoding": {"x": {"datum": 2.47, "type": "quantitative"}, "y": {"datum": 1.117, "type": "quantitative"}, "text": {"value": "OS according to DPD status"}}},
              {"data": {"name": "yticks"}, "mark": {"type": "text", "fontSize": 10.5, "fontWeight": "bold", "color": "#222", "align": "right", "baseline": "middle", "dx": -7}, "encoding": {"x": {"datum": -0.11, "type": "quantitative"}, "y": {"field": "v", "type": "quantitative"}, "text": {"field": "lab"}}},
              {"data": {"name": "tr_curves"}, "mark": {"type": "line", "interpolate": "step-after"},
               "encoding": {
                 "x": {"field": "t", "type": "quantitative", "scale": {"domain": [-0.11, 5.12], "nice": false, "zero": false},
                       "axis": {"orient": "bottom", "values": [0,1,2,3,4,5], "format": "d", "tickSize": 4, "labelOverlap": false, "labelFlush": false, "title": null, "grid": false, "labelFontSize": 10.5, "labelFontWeight": "bold", "labelColor": "#222", "domainColor": "#111", "tickColor": "#111", "labelPadding": 1}},
                 "y": {"field": "s", "type": "quantitative", "scale": {"domain": [-0.05, 1], "nice": false, "zero": false},
                       "axis": {"values": [0,0.2,0.4,0.6,0.8,1], "labels": false, "tickSize": 4, "grid": false, "domainColor": "#111", "tickColor": "#111", "title": ["Overall", "survival"], "titleAngle": 0, "titleAlign": "left", "titleBaseline": "top", "titleX": -28.5, "titleY": -27, "titleFontSize": 8, "titleFontWeight": "bold", "titleLineHeight": 9.5, "titleColor": "#222"}},
                 "color": {"field": "c", "type": "nominal", "scale": {"domain": ["Surg.","5FU","gem","GS","S-1"], "range": ["#2b40f0","#2fdc2f","#f02828","#1a1a1a","#9a35b5"]}, "legend": null},
                 "strokeWidth": {"field": "g", "type": "nominal", "scale": {"domain": ["a","b"], "range": [1.7, 1.0]}, "legend": null},
                 "opacity": {"field": "g", "type": "nominal", "scale": {"domain": ["a","b"], "range": [1, 0.55]}, "legend": null},
                 "detail": {"field": "g"}
               }},
              {"data": {"name": "tr_cens"}, "mark": {"type": "point", "filled": true, "size": 26, "opacity": 1, "strokeWidth": 0},
               "encoding": {"x": {"field": "t", "type": "quantitative"}, "y": {"field": "s", "type": "quantitative"},
                 "fill": {"field": "c", "type": "nominal", "scale": {"domain": ["Surg.","5FU","gem","GS","S-1"], "range": ["#1c2a95","#2aa02a","#e81c1c","#111111","#8a1fa5"]}, "legend": null},
                 "shape": {"field": "g", "type": "nominal", "scale": {"domain": ["a","b"], "range": ["circle","triangle-up"]}, "legend": null}}},
              {"data": {"values": [{}]}, "mark": {"type": "text", "fontSize": 9, "fontWeight": "bold", "color": "#333", "baseline": "middle", "align": "center"}, "encoding": {"x": {"datum": 4.08, "type": "quantitative"}, "y": {"datum": 0.9586, "type": "quantitative"}, "text": {"value": "TS-"}}},
              {"data": {"values": [{}]}, "mark": {"type": "text", "fontSize": 9, "fontWeight": "bold", "color": "#333", "baseline": "middle", "align": "center"}, "encoding": {"x": {"datum": 5.08, "type": "quantitative"}, "y": {"datum": 0.9586, "type": "quantitative"}, "text": {"value": "TS+"}}},
              {"data": {"values": [{}]}, "mark": {"type": "rule", "color": "#222", "strokeWidth": 1.2}, "encoding": {"x": {"datum": 2.71, "type": "quantitative"}, "x2": {"datum": 5.44}, "y": {"datum": 0.895, "type": "quantitative"}}},
              {"data": {"values": [{}]}, "mark": {"type": "text", "fontSize": 7, "fontWeight": "bold", "color": "#222", "baseline": "alphabetic", "align": "left"}, "encoding": {"x": {"datum": 5.1, "type": "quantitative"}, "y": {"datum": -0.152, "type": "quantitative"}, "text": {"value": "years"}}}
            ]},
            {"data": {"name": "tr_tab"}, "layer": [
              {"mark": {"type": "text", "fontSize": 9, "fontWeight": "bold", "color": "#333", "baseline": "middle", "align": "left"},
               "encoding": {"x": {"datum": 2.84, "type": "quantitative", "axis": null}, "y": {"field": "c", "type": "nominal", "scale": {"type": "point", "domain": ["Surg.","5FU","gem","GS","S-1"], "range": [24.3, 80.5], "padding": 0}, "axis": null}, "text": {"field": "c"}}},
              {"mark": {"type": "rule", "strokeWidth": 1.6},
               "encoding": {"x": {"datum": 3.58, "type": "quantitative", "axis": null}, "x2": {"datum": 3.84}, "y": {"field": "c", "type": "nominal"}, "color": {"field": "c", "type": "nominal", "legend": null}}},
              {"mark": {"type": "text", "fontSize": 9, "fontWeight": "bold", "color": "#333", "baseline": "middle", "align": "center"},
               "encoding": {"x": {"datum": 4.13, "type": "quantitative", "axis": null}, "y": {"field": "c", "type": "nominal"}, "text": {"field": "n1"}}},
              {"mark": {"type": "rule", "strokeWidth": 1.2, "opacity": 0.6},
               "encoding": {"x": {"datum": 4.46, "type": "quantitative", "axis": null}, "x2": {"datum": 4.69}, "y": {"field": "c", "type": "nominal"}, "color": {"field": "c", "type": "nominal", "legend": null}}},
              {"mark": {"type": "text", "fontSize": 9, "fontWeight": "bold", "color": "#333", "baseline": "middle", "align": "center"},
               "encoding": {"x": {"datum": 5.13, "type": "quantitative", "axis": null}, "y": {"field": "c", "type": "nominal"}, "text": {"field": "n2"}}}
            ]},
            {"data": {"values": [{}]}, "mark": {"type": "point", "opacity": 0, "size": 0},
             "encoding": {
               "x": {"datum": 0, "type": "quantitative", "axis": {"orient": "bottom", "values": [0.2,0.4,0.6,0.8,1.2,1.4,1.6,1.8,2.2,2.4,2.6,2.8,3.2,3.4,3.6,3.8,4.2,4.4,4.6,4.8], "labels": false, "domain": false, "tickSize": 2, "tickColor": "#111", "grid": false, "title": null}},
               "y": {"datum": 0, "type": "quantitative", "scale": {"domain": [-0.05, 1], "nice": false, "zero": false}, "axis": {"orient": "left", "values": [0.05,0.1,0.15,0.25,0.3,0.35,0.45,0.5,0.55,0.65,0.7,0.75,0.85,0.9,0.95], "labels": false, "domain": false, "tickSize": 2, "tickColor": "#111", "grid": false, "title": null}}
             }}
          ]
        }
      ]
    }
  ]
}
